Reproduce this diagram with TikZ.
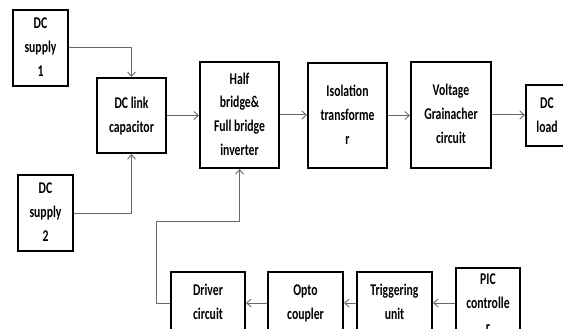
\documentclass[tikz,border=0pt]{standalone}
\usepackage{fontspec}
\setmainfont{Carlito}
\usepackage{graphicx}
\usetikzlibrary{arrows.meta}
\newcommand{\bt}[1]{\scalebox{1}[1.4]{\fontsize{11.7}{17}\selectfont\bfseries\begin{tabular}{@{}c@{}}#1\end{tabular}}}
\tikzset{
  blk/.style={draw=black, line width=2pt, fill=white, inner sep=0pt, rectangle},
  conn/.style={draw={rgb,255:red,105;green,105;blue,105}, line width=1pt,
    -{Straight Barb[length=4.5pt,width=8pt,line width=0.9pt]}},
}
\begin{document}
\begin{tikzpicture}[x=1pt,y=-1pt]
\useasboundingbox (0,0) rectangle (563,329);
\clip (0,0) rectangle (563,329);
\fill[white] (0,0) rectangle (563,329);
% boxes
\node[blk, minimum width=55pt, minimum height=76pt] (s1) at (40.5,48) {\bt{DC\\supply\\1}};
\node[blk, minimum width=69pt, minimum height=75pt] (dcl) at (131.5,115.5) {\bt{DC link\\capacitor}};
\node[blk, minimum width=79pt, minimum height=106pt] (hb) at (239.5,115) {\bt{Half\\bridge\&\\Full bridge\\inverter}};
\node[blk, minimum width=79pt, minimum height=105pt] (iso) at (347.5,115.5) {\bt{Isolation\\transforme\\r}};
\node[blk, minimum width=80pt, minimum height=105pt] (vg) at (451,115) {\bt{Voltage\\Grainacher\\circuit}};
\node[blk, minimum width=42pt, minimum height=61pt] (load) at (547,115.5) {\bt{DC\\load}};
\node[blk, minimum width=55pt, minimum height=76pt] (s2) at (45.5,213) {\bt{DC\\supply\\2}};
\node[blk, minimum width=74pt, minimum height=62pt] (drv) at (208,303) {\bt{Driver\\circuit}};
\node[blk, minimum width=75pt, minimum height=62pt] (opto) at (305.5,303) {\bt{Opto\\coupler}};
\node[blk, minimum width=75pt, minimum height=62pt] (trig) at (394.5,303) {\bt{Triggering\\unit}};
\node[blk, minimum width=64pt, minimum height=62pt] (pic) at (488,303.5) {\bt{PIC\\controlle\\r}};
\coordinate (k) at (156,221);
% connectors
\draw[conn] (s1.east) -| (dcl.north);
\draw[conn] (s2.east) -| (dcl.south);
\draw[conn] (dcl.east) -- (dcl.east -| hb.west);
\draw[conn] (hb.east) -- (hb.east -| iso.west);
\draw[conn] (iso.east) -- (iso.east -| vg.west);
\draw[conn] (vg.east) -- (vg.east -| load.west);
\draw[conn] (pic.west |- trig.east) -- (trig.east);
\draw[conn] (trig.west) -- (opto.east);
\draw[conn] (opto.west) -- (drv.east);
\draw[conn] (drv.west) -| (k) -| (hb.south);
\end{tikzpicture}
\end{document}
